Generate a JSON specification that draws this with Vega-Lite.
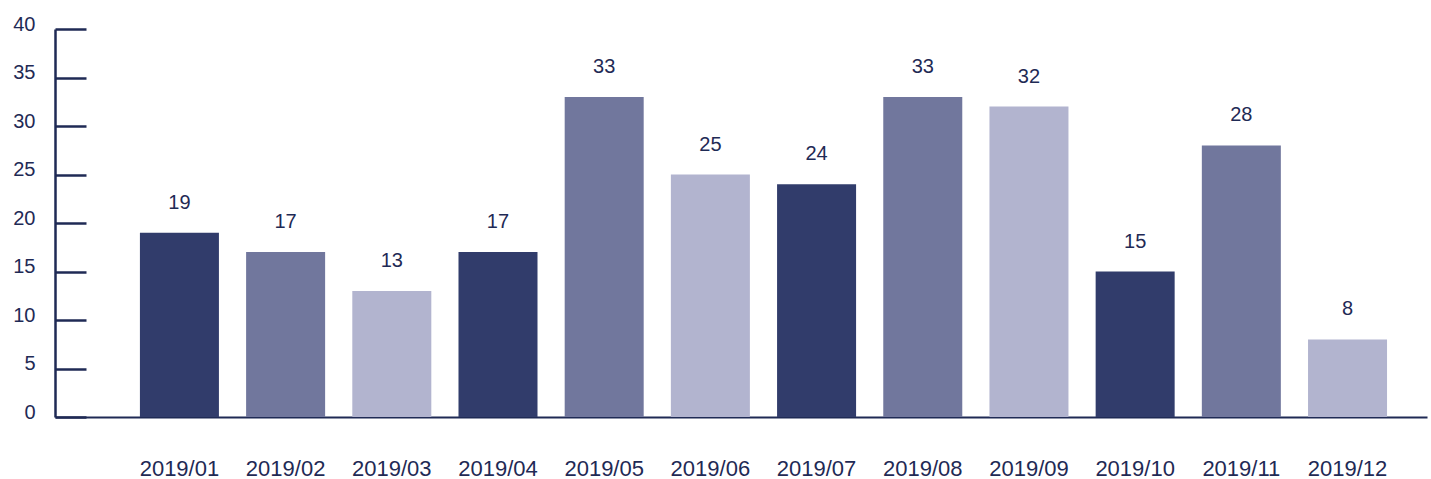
{
  "$schema": "https://vega.github.io/schema/vega-lite/v6.json",
  "width": 1372,
  "height": 388,
  "autosize": {"type": "none"},
  "padding": {"left": 55, "top": 29, "right": 4, "bottom": 62},
  "background": "white",
  "config": {
    "view": {"stroke": null},
    "font": "Liberation Sans"
  },
  "data": {
    "values": [
      {"month": "2019/01", "value": 19},
      {"month": "2019/02", "value": 17},
      {"month": "2019/03", "value": 13},
      {"month": "2019/04", "value": 17},
      {"month": "2019/05", "value": 33},
      {"month": "2019/06", "value": 25},
      {"month": "2019/07", "value": 24},
      {"month": "2019/08", "value": 33},
      {"month": "2019/09", "value": 32},
      {"month": "2019/10", "value": 15},
      {"month": "2019/11", "value": 28},
      {"month": "2019/12", "value": 8}
    ]
  },
  "encoding": {
    "x": {
      "field": "month",
      "type": "nominal",
      "sort": null,
      "scale": {"paddingInner": 0.256, "paddingOuter": 0.588, "align": 0.68},
      "axis": {
        "title": null,
        "labelAngle": 0,
        "ticks": false,
        "labelPadding": 41,
        "labelFontSize": 22,
        "labelColor": "#1f2a55",
        "domainColor": "#1f2a55",
        "domainWidth": 2,
        "grid": false
      }
    },
    "y": {
      "field": "value",
      "type": "quantitative",
      "scale": {"domain": [0, 40], "nice": false},
      "axis": {
        "title": null,
        "values": [0, 5, 10, 15, 20, 25, 30, 35, 40],
        "grid": false,
        "tickSize": -31,
        "tickWidth": 2.5,
        "tickColor": "#1f2a55",
        "domainColor": "#1f2a55",
        "domainWidth": 2.5,
        "labelPadding": 51,
        "labelOffset": -5,
        "labelFontSize": 20,
        "labelColor": "#1f2a55"
      }
    }
  },
  "layer": [
    {
      "mark": {"type": "bar"},
      "encoding": {
        "color": {
          "field": "month",
          "type": "nominal",
          "sort": null,
          "legend": null,
          "scale": {
            "range": ["#313c6b", "#71779d", "#b2b4cf", "#313c6b", "#71779d", "#b2b4cf", "#313c6b", "#71779d", "#b2b4cf", "#313c6b", "#71779d", "#b2b4cf"]
          }
        }
      }
    },
    {
      "mark": {"type": "text", "dy": -30, "baseline": "middle", "fontSize": 20, "color": "#1f2a55"},
      "encoding": {
        "text": {"field": "value", "type": "quantitative"}
      }
    }
  ]
}
